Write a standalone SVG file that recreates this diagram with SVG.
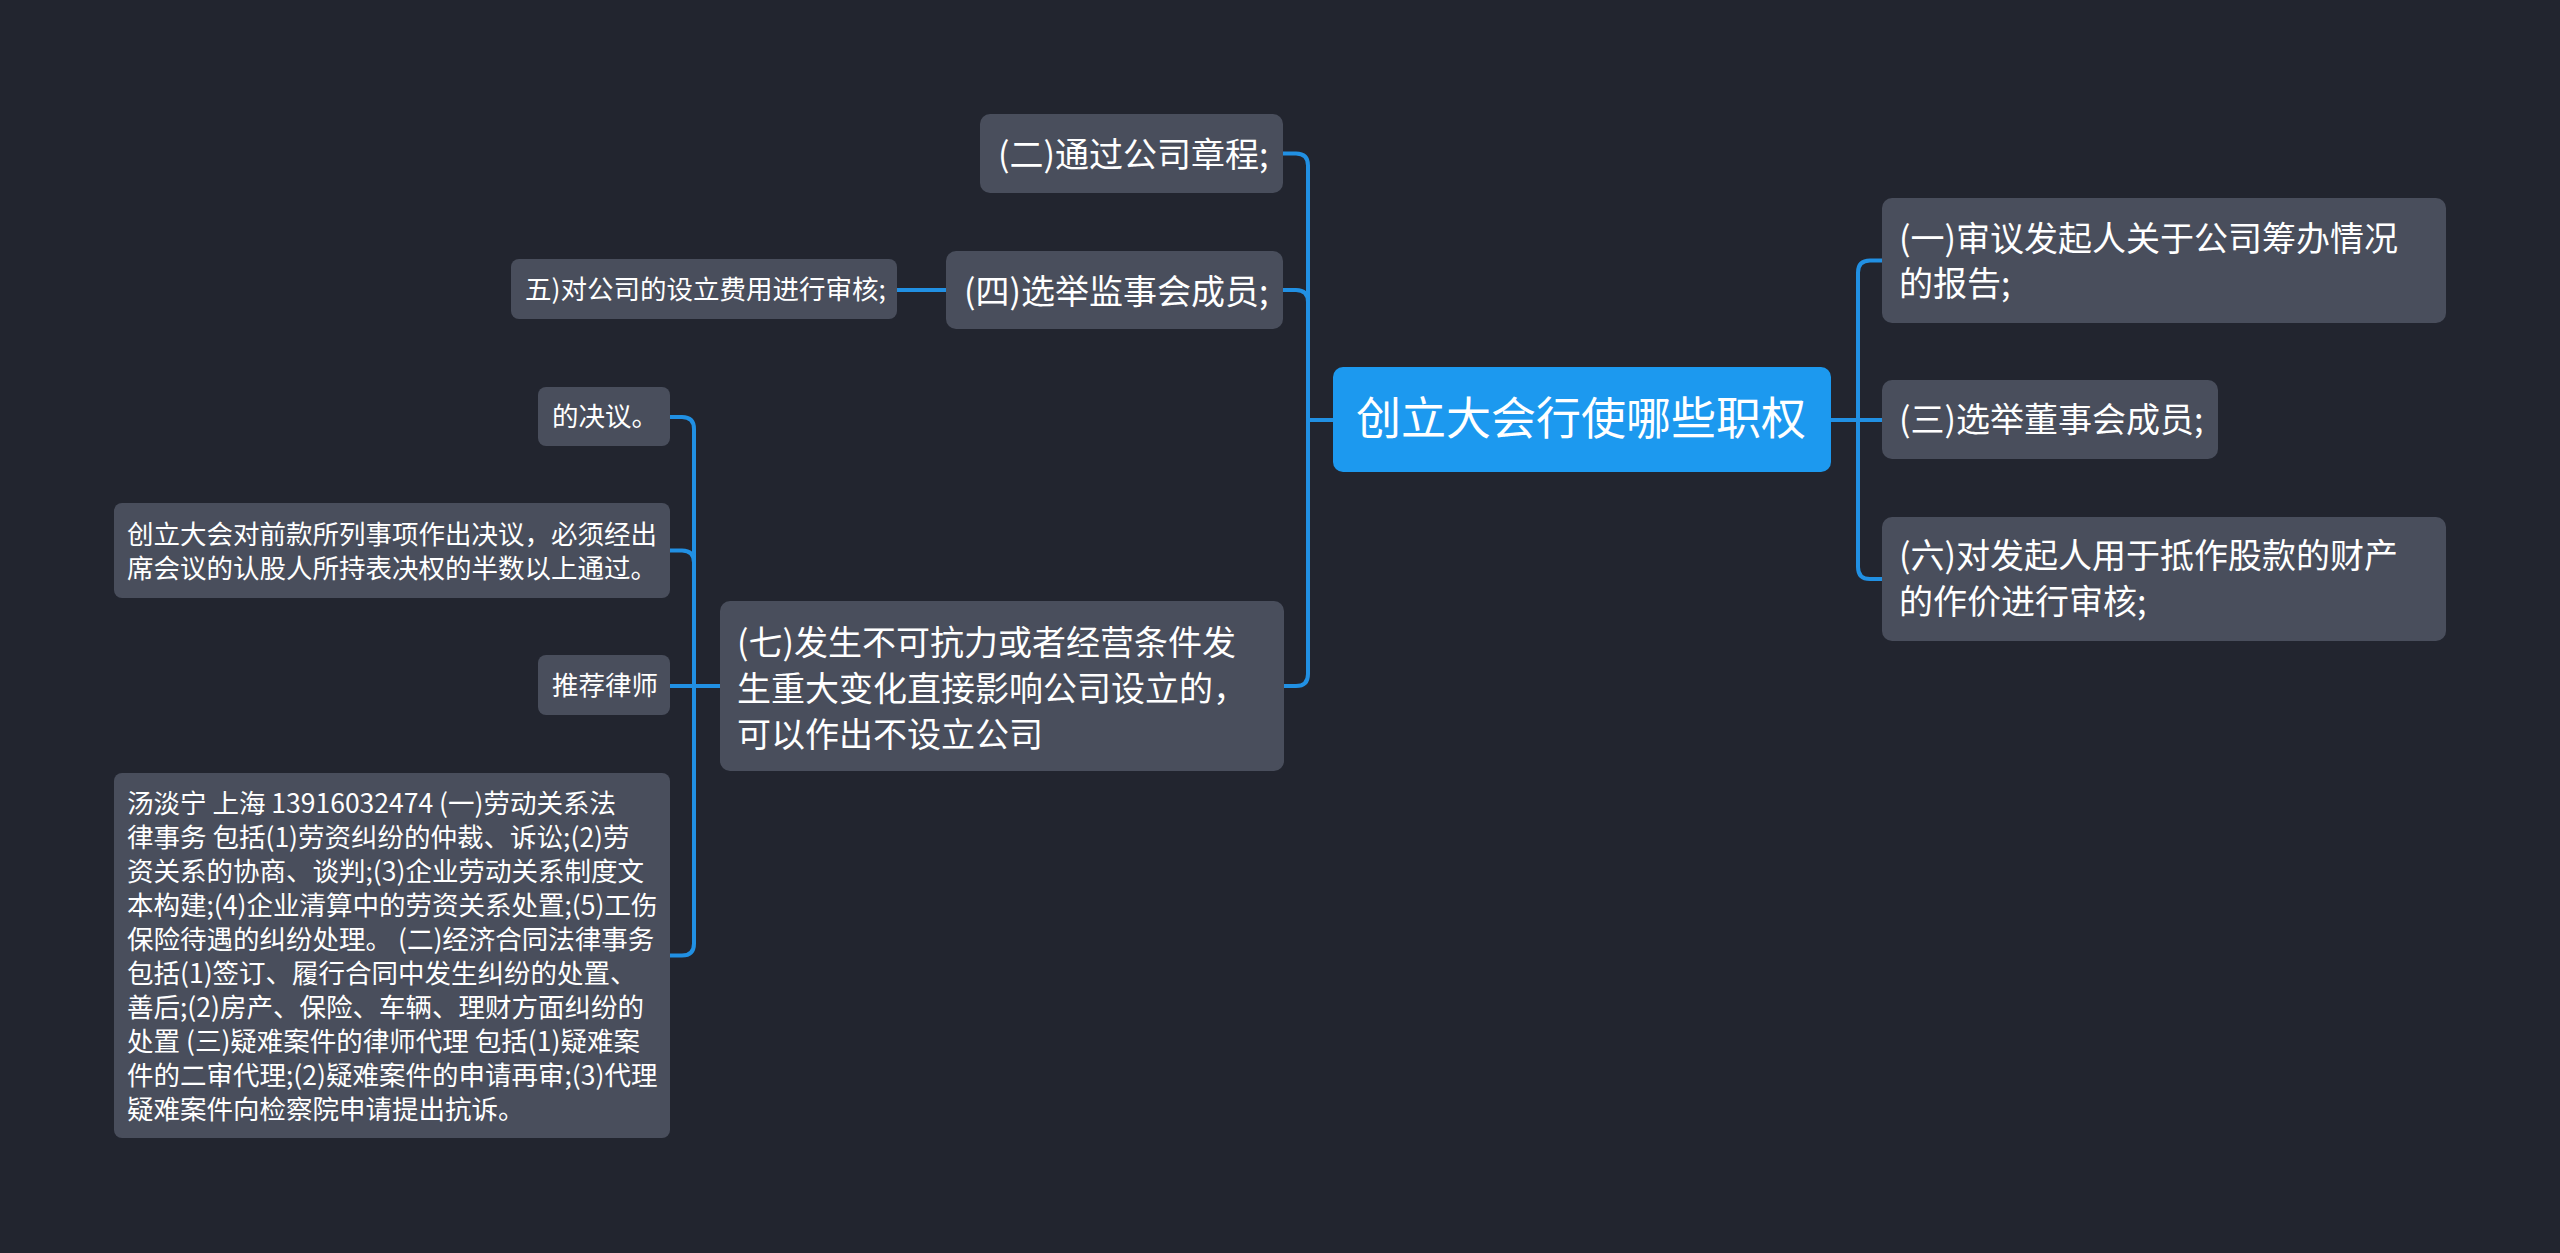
<svg xmlns="http://www.w3.org/2000/svg" width="2560" height="1253" viewBox="0 0 2560 1253">
<style>
.bg{fill:#22252f}
.box{fill:#494e5c}
.root{fill:#1c99ef}
.t{font-family:"Noto Sans CJK SC","Noto Sans",sans-serif;fill:#ffffff}
.t45{font-size:45px}
.t34{font-size:34px}
.t26{font-size:26.5px}
.c{fill:none;stroke:#2190e3;stroke-width:4;stroke-linecap:round;stroke-linejoin:round}
</style>
<rect class="bg" x="0" y="0" width="2560" height="1253"/>
<g id="connectors">
<path class="c" d="M1333,420 H1308 V165.5 Q1308,153.5 1296,153.5 H1283"/>
<path class="c" d="M1333,420 H1308 V302 Q1308,290 1296,290 H1283"/>
<path class="c" d="M1333,420 H1308 V674 Q1308,686 1296,686 H1284"/>
<path class="c" d="M1831,420 H1858 V272.5 Q1858,260.5 1870,260.5 H1882"/>
<path class="c" d="M1831,420 H1882"/>
<path class="c" d="M1831,420 H1858 V567 Q1858,579 1870,579 H1882"/>
<path class="c" d="M946,290 H897"/>
<path class="c" d="M720,686 H694 V429 Q694,417 682,417 H670"/>
<path class="c" d="M720,686 H694 V562.5 Q694,550.5 682,550.5 H670"/>
<path class="c" d="M720,686 H670"/>
<path class="c" d="M720,686 H694 V943.5 Q694,955.5 682,955.5 H670"/>
</g>
<g id="root">
<rect class="root" x="1333" y="367" width="498" height="105" rx="10"/>
<text class="t t45" x="1356" y="435">创立大会行使哪些职权</text>
</g>
<g id="n1">
<rect class="box" x="1882" y="198" width="564" height="125" rx="10"/>
<text class="t t34" x="1899" y="250.5">(一)审议发起人关于公司筹办情况</text>
<text class="t t34" x="1899" y="296">的报告;</text>
</g>
<g id="n3">
<rect class="box" x="1882" y="380" width="336" height="79" rx="10"/>
<text class="t t34" x="1899" y="432">(三)选举董事会成员;</text>
</g>
<g id="n6">
<rect class="box" x="1882" y="517" width="564" height="124" rx="10"/>
<text class="t t34" x="1899" y="568">(六)对发起人用于抵作股款的财产</text>
<text class="t t34" x="1899" y="614">的作价进行审核;</text>
</g>
<g id="n2">
<rect class="box" x="980" y="114" width="303" height="79" rx="10"/>
<text class="t t34" x="998" y="167">(二)通过公司章程;</text>
</g>
<g id="n4">
<rect class="box" x="946" y="251" width="337" height="78" rx="10"/>
<text class="t t34" x="964" y="304">(四)选举监事会成员;</text>
</g>
<g id="n5">
<rect class="box" x="511" y="259" width="386" height="60" rx="8"/>
<text class="t t26" x="525" y="299">五)对公司的设立费用进行审核;</text>
</g>
<g id="n7">
<rect class="box" x="720" y="601" width="564" height="170" rx="10"/>
<text class="t t34" x="737" y="655">(七)发生不可抗力或者经营条件发</text>
<text class="t t34" x="737" y="701">生重大变化直接影响公司设立的，</text>
<text class="t t34" x="737" y="747">可以作出不设立公司</text>
</g>
<g id="n7a">
<rect class="box" x="538" y="387" width="132" height="59" rx="8"/>
<text class="t t26" x="552" y="426">的决议。</text>
</g>
<g id="n7b">
<rect class="box" x="114" y="503" width="556" height="95" rx="8"/>
<text class="t t26" x="127" y="543.5">创立大会对前款所列事项作出决议，必须经出</text>
<text class="t t26" x="127" y="577.5">席会议的认股人所持表决权的半数以上通过。</text>
</g>
<g id="n7c">
<rect class="box" x="538" y="655" width="132" height="60" rx="8"/>
<text class="t t26" x="552" y="695">推荐律师</text>
</g>
<g id="n7d">
<rect class="box" x="114" y="773" width="556" height="365" rx="8"/>
<text class="t t26" x="127" y="812.5">汤淡宁 上海 13916032474 (一)劳动关系法</text>
<text class="t t26" x="127" y="846.5">律事务 包括(1)劳资纠纷的仲裁、诉讼;(2)劳</text>
<text class="t t26" x="127" y="880.5">资关系的协商、谈判;(3)企业劳动关系制度文</text>
<text class="t t26" x="127" y="914.5">本构建;(4)企业清算中的劳资关系处置;(5)工伤</text>
<text class="t t26" x="127" y="948.5">保险待遇的纠纷处理。 (二)经济合同法律事务</text>
<text class="t t26" x="127" y="982.5">包括(1)签订、履行合同中发生纠纷的处置、</text>
<text class="t t26" x="127" y="1016.5">善后;(2)房产、保险、车辆、理财方面纠纷的</text>
<text class="t t26" x="127" y="1050.5">处置 (三)疑难案件的律师代理 包括(1)疑难案</text>
<text class="t t26" x="127" y="1084.5">件的二审代理;(2)疑难案件的申请再审;(3)代理</text>
<text class="t t26" x="127" y="1118.5">疑难案件向检察院申请提出抗诉。</text>
</g>
</svg>
